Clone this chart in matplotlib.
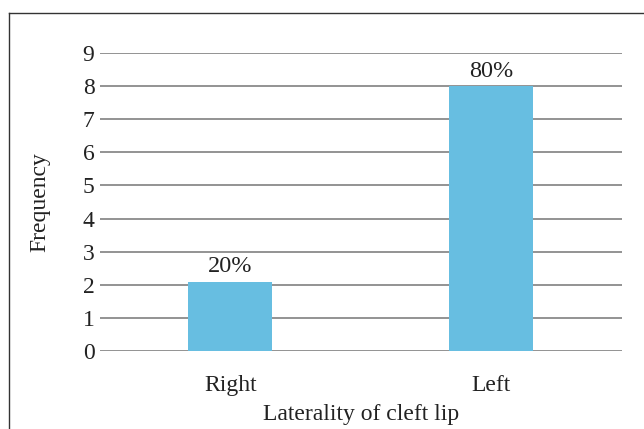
import matplotlib
matplotlib.use("Agg")
import matplotlib.pyplot as plt
from matplotlib.lines import Line2D

plt.rcParams['font.family'] = ['Liberation Serif', 'DejaVu Serif']

categories = ["Right", "Left"]
frequency = [2.1, 8]
percent_labels = ["20%", "80%"]
y_ticks = [0, 1, 2, 3, 4, 5, 6, 7, 8, 9]

W, H = 644, 429
fig = plt.figure(figsize=(W / 100, H / 100), dpi=100)
ax = fig.add_axes([100 / W, 1 - 351.3 / H, 521.5 / W, (351.3 - 52.7) / H])

x = list(range(len(categories)))
bars = ax.bar(x, frequency, width=0.322, color="#67BEE1", zorder=3)
for b, lab in zip(bars, percent_labels):
    ax.annotate(lab, (b.get_x() + b.get_width() / 2, b.get_height()),
                xytext=(0, 3), textcoords="offset points",
                ha="center", va="bottom", fontsize=17.5, color="#222222")

ax.set_xlim(-0.5, 1.5)
ax.set_ylim(0, 9)
ax.set_yticks(y_ticks)
ax.set_xticks(x)
ax.set_xticklabels(categories)
ax.tick_params(axis="both", length=0, labelsize=17, colors="#222222")
ax.tick_params(axis="y", pad=4)
ax.tick_params(axis="x", pad=17)
ax.yaxis.grid(True, color="#8a8a8a", linewidth=1.3, zorder=0)
ax.set_axisbelow(True)
for s in ax.spines.values():
    s.set_visible(False)

ax.set_ylabel("Frequency", fontsize=17, color="#222222", labelpad=23)
ax.set_xlabel("Laterality of cleft lip", fontsize=17, color="#222222", labelpad=6)

# frame around the figure (open on the right and bottom)
fig.add_artist(Line2D([9 / W, 9 / W], [0, 1 - 13 / H], transform=fig.transFigure,
                      color="#333333", linewidth=1.0))
fig.add_artist(Line2D([9 / W, 1], [1 - 13 / H, 1 - 13 / H], transform=fig.transFigure,
                      color="#333333", linewidth=1.0))

fig.savefig("out.png", dpi=100)
